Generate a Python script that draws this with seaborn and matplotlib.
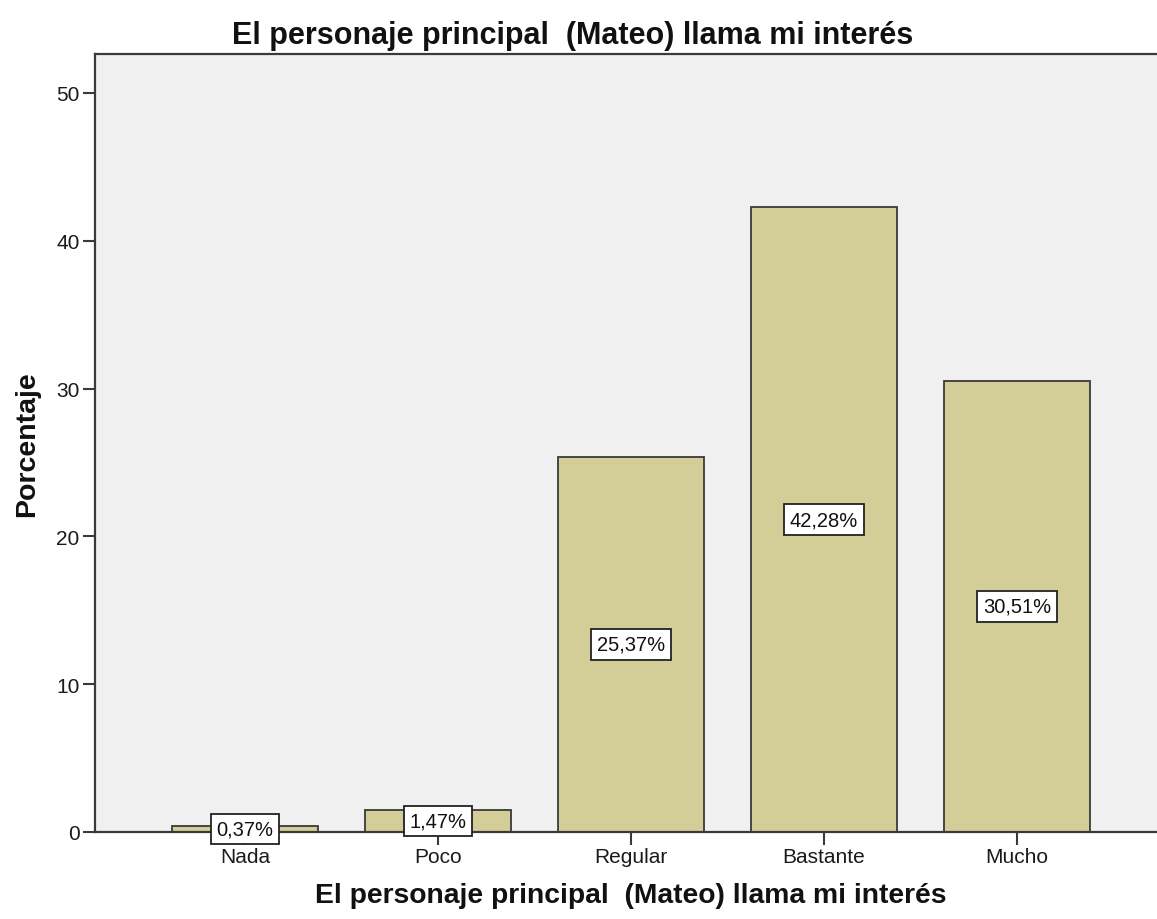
"""Bar chart of interest in the main character (Mateo), SPSS style."""

import matplotlib.pyplot as plt
import pandas as pd
import seaborn as sns


CATEGORIES = ["Nada", "Poco", "Regular", "Bastante", "Mucho"]
PERCENTAGES = [0.37, 1.47, 25.37, 42.28, 30.51]
VALUE_LABELS = ["0,37%", "1,47%", "25,37%", "42,28%", "30,51%"]
Y_TICKS = [0, 10, 20, 30, 40, 50]

TITLE = "El personaje principal  (Mateo) llama mi interés"
BAR_COLOR = "#D3CE98"
PANEL_COLOR = "#F0F0F0"
LINE_COLOR = "#3A3A3A"


def main():
    data = pd.DataFrame({"categoria": CATEGORIES, "porcentaje": PERCENTAGES})

    sns.set_theme(style="white")
    plt.rcParams["font.family"] = ["Liberation Sans", "DejaVu Sans"]

    figure = plt.figure(figsize=(11.57, 9.2), dpi=100)
    ax = figure.add_axes([0.0821, 0.0946, 0.93, 0.8457])
    ax.set_facecolor(PANEL_COLOR)

    sns.barplot(
        data=data,
        x="categoria",
        y="porcentaje",
        order=CATEGORIES,
        color=BAR_COLOR,
        saturation=1,
        width=0.755,
        edgecolor=LINE_COLOR,
        linewidth=1.3,
        ax=ax,
    )

    for patch, label in zip(ax.patches, VALUE_LABELS):
        ax.text(
            patch.get_x() + patch.get_width() / 2,
            patch.get_height() / 2,
            label,
            ha="center",
            va="center",
            fontsize=14.5,
            color="#111111",
            zorder=5,
            clip_on=False,
            bbox=dict(boxstyle="square,pad=0.28", facecolor="white",
                      edgecolor="#222222", linewidth=1.3),
        )

    ax.set_xlim(-0.777, 4.798)
    ax.set_ylim(0, 52.64)
    ax.set_yticks(Y_TICKS)
    ax.set_yticklabels([str(t) for t in Y_TICKS], fontsize=15, color="#1a1a1a")
    ax.set_xticks(range(len(CATEGORIES)))
    ax.set_xticklabels(CATEGORIES, fontsize=15, color="#1a1a1a")
    ax.tick_params(axis="both", direction="out", length=9, width=1.5,
                   color=LINE_COLOR, left=True, bottom=True, pad=2)

    for side in ["left", "top"]:
        ax.spines[side].set_visible(True)
        ax.spines[side].set_color(LINE_COLOR)
        ax.spines[side].set_linewidth(1.6)
    ax.spines["right"].set_visible(False)
    ax.spines["bottom"].set_visible(False)
    # baseline drawn as a line so it runs to the right edge of the figure
    ax.axhline(0, color=LINE_COLOR, linewidth=1.6, clip_on=False, zorder=3)

    ax.set_xlabel("")
    ax.set_ylabel("Porcentaje", fontsize=20.5, fontweight="bold",
                  color="#111111", labelpad=12)
    figure.text(0.545, 0.012, TITLE, ha="center", va="bottom",
                fontsize=20.3, fontweight="bold", color="#111111")
    figure.text(0.495, 0.977, TITLE, ha="center", va="top",
                fontsize=22, fontweight="bold", color="#111111")

    figure.savefig("out.png", dpi=100)
    plt.close(figure)


if __name__ == "__main__":
    main()
